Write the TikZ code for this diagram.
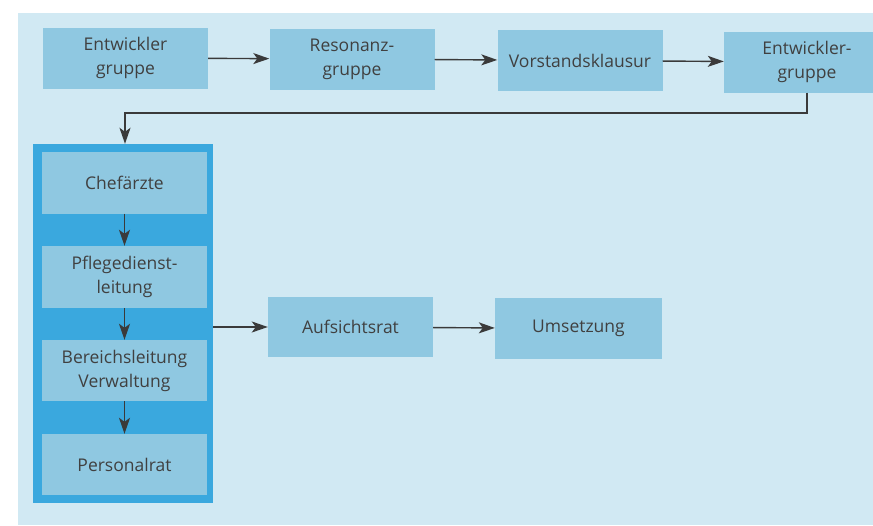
\documentclass[tikz,border=0pt]{standalone}
\usepackage{fontspec}
\setmainfont{Open Sans}
\usetikzlibrary{arrows.meta}
\definecolor{bgblue}{HTML}{D1E9F3}
\definecolor{boxblue}{HTML}{8FC8E1}
\definecolor{frameblue}{HTML}{3AA8DE}
\definecolor{darkline}{HTML}{3A3A3A}
\definecolor{textgray}{HTML}{404040}
\begin{document}
\begin{tikzpicture}[x=1pt,y=-1pt,
    box/.style={fill=boxblue,minimum width=165pt,minimum height=61pt,inner sep=0pt,
      align=center,text=textgray,font=\fontsize{17.5}{24}\selectfont},
    arr/.style={draw=darkline,line width=1.4pt,-{Stealth[length=16pt,width=11pt,inset=4pt]}}]
    \clip (0,0) rectangle (873,525);
    \fill [bgblue] (18,13) rectangle (873,525);
    % top row
    \node [box] (entw) at (125.5,58) {Entwickler\\gruppe};
    \node [box] (reso) at (352,59) {Resonanz-\\gruppe};
    \node [box] (vorst) at (580,60.5) {Vorstandsklausur};
    \node [box,minimum width=166pt] (entwb) at (807,62) {Entwickler-\\gruppe};
    \draw [arr] (entw) -- (reso);
    \draw [arr] (reso) -- (vorst);
    \draw [arr] (vorst) -- (entwb);
    % left column
    \node [fill=frameblue,minimum width=180pt,minimum height=359pt,inner sep=0pt] (frame) at (123,323.5) {};
    \node [box,minimum height=62pt] (chef) at (124.5,182.5) {Chefärzte};
    \node [box,minimum height=62pt] (pflege) at (124.5,277) {Pflegedienst-\\leitung};
    \node [box] (bereich) at (124.5,370.5) {Bereichsleitung\\Verwaltung};
    \node [box] (personal) at (124.5,464.5) {Personalrat};
    \coordinate (knick) at (125,113);
    \draw [arr] (entwb.south) |- (knick) -- (frame.north -| knick);
    \draw [arr] (chef) -- (pflege);
    \draw [arr] (pflege) -- (bereich);
    \draw [arr] (bereich) -- (personal);
    % bottom row
    \node [box,minimum height=60pt] (aufsicht) at (350.5,327) {Aufsichtsrat};
    \node [box,minimum width=167pt] (umsetz) at (578.5,328.5) {Umsetzung};
    \draw [arr] (frame.east |- aufsicht) -- (aufsicht);
    \draw [arr] (aufsicht) -- (umsetz);
\end{tikzpicture}
\end{document}
